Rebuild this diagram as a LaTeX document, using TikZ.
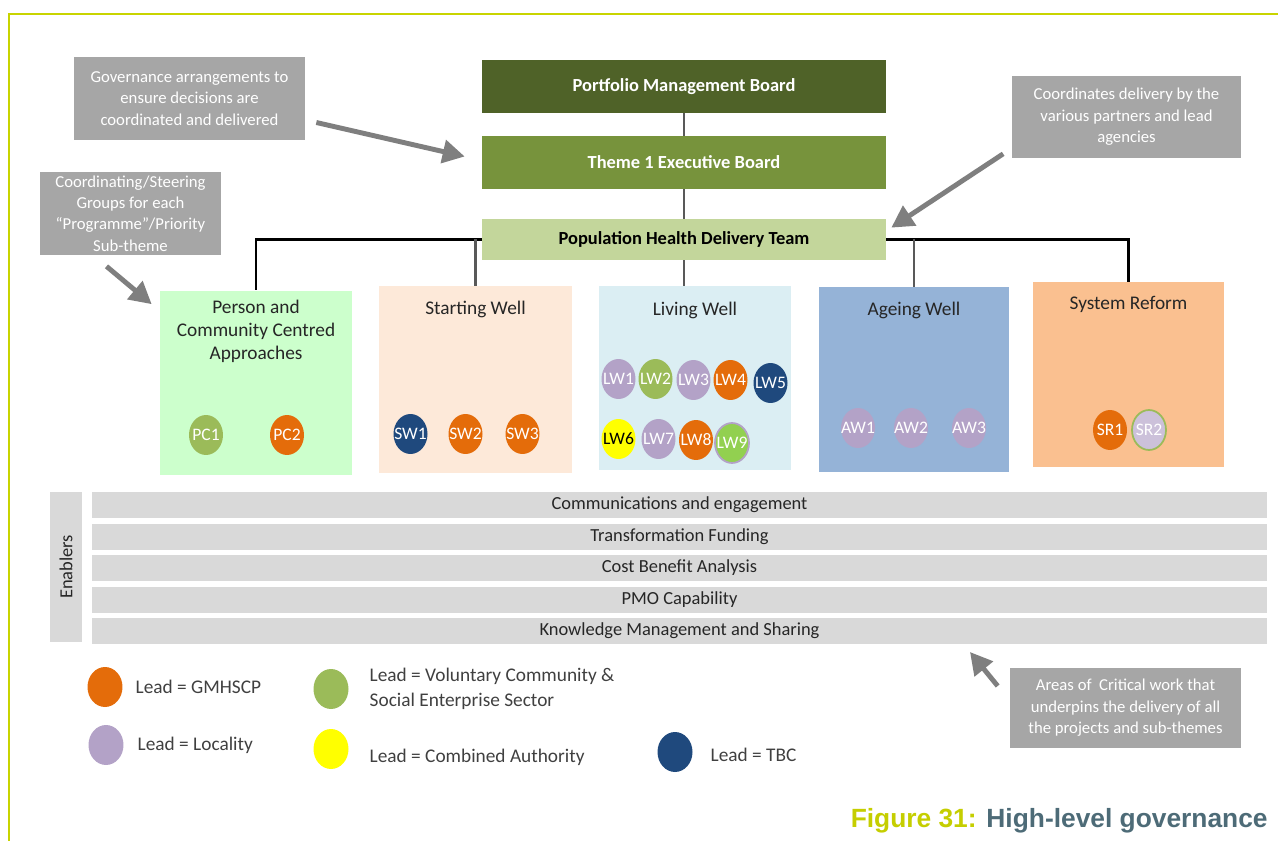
\documentclass[tikz,border=0pt]{standalone}
\usepackage{fontspec}
\setmainfont{Carlito}
\newfontfamily\capfont{Liberation Sans}
\usepackage{tikz}
\usetikzlibrary{positioning,shapes.geometric,arrows.meta}
\definecolor{framegreen}{HTML}{C8D400}
\definecolor{pmbgreen}{HTML}{4F6228}
\definecolor{t1green}{HTML}{77933C}
\definecolor{phdtgreen}{HTML}{C3D69B}
\definecolor{calloutgrey}{HTML}{A6A6A6}
\definecolor{arrowgrey}{HTML}{7F7F7F}
\definecolor{linkgrey}{HTML}{595959}
\definecolor{titlegrey}{HTML}{262626}
\definecolor{keygrey}{HTML}{404040}
\definecolor{enablergrey}{HTML}{D9D9D9}
\definecolor{personfill}{HTML}{CCFFCC}
\definecolor{swfill}{HTML}{FDE9D9}
\definecolor{lwfill}{HTML}{DBEEF3}
\definecolor{awfill}{HTML}{95B3D7}
\definecolor{srfill}{HTML}{FAC090}
\definecolor{leadgm}{HTML}{E46C0A}
\definecolor{leadvcse}{HTML}{9BBB59}
\definecolor{leadloc}{HTML}{B3A2C7}
\definecolor{leadtbc}{HTML}{1F497D}
\definecolor{leadca}{HTML}{FFFF00}
\definecolor{lwninegreen}{HTML}{92D050}
\definecolor{srtwolilac}{HTML}{CCC1DA}
\definecolor{capyellow}{HTML}{C5CE00}
\definecolor{capslate}{HTML}{4D6B77}

\begin{document}
\begin{tikzpicture}[x=0.02cm, y=-0.02cm,
		board/.style={rectangle, minimum width=8.08cm, inner sep=0pt, font=\fontsize{10.5}{12}\selectfont\bfseries},
		theme/.style={rectangle, minimum width=3.84cm, minimum height=3.7cm, inner sep=0pt},
		themetitle/.style={font=\fontsize{11}{13}\selectfont, text=titlegrey, align=center, inner sep=0pt},
		callout/.style={rectangle, fill=calloutgrey, text=white, minimum width=4.62cm, minimum height=1.66cm, align=center, inner sep=0pt, font=\fontsize{9.5}{12.2}\selectfont},
		callarrow/.style={draw=arrowgrey, line width=2.8pt, -{Triangle[length=0.44cm,width=0.46cm]}},
		link/.style={draw=linkgrey, line width=1.5pt},
		blacklink/.style={draw=black, line width=1.4pt},
		keydot/.style={ellipse, minimum width=0.7cm, minimum height=0.8cm, inner sep=0pt},
		leadlabel/.style={inner sep=0pt, text=white, font=\fontsize{10}{10}\selectfont},
		lead/.style={keydot, minimum width=0.68cm, label={[leadlabel]center:#1}},
		enbar/.style={rectangle, fill=enablergrey, minimum width=23.5cm, minimum height=0.52cm, inner sep=0pt, text=titlegrey, font=\fontsize{10.5}{12}\selectfont},
		keytext/.style={font=\fontsize{11}{14}\selectfont, text=keygrey, align=left, inner sep=2pt}]

		\useasboundingbox (0,0) rectangle (1278,841);
		\draw [framegreen, line width=1.7pt] (9,841) -- (9,14) -- (1278,14);

		% Boards
		\node [board, fill=pmbgreen, text=white, minimum height=1.06cm] (pmb) at (684,86.5) {Portfolio Management Board};
		\node [board, fill=t1green, text=white, minimum height=1.06cm] (t1eb) at (684,162.5) {Theme 1 Executive Board};
		\node [board, fill=phdtgreen, text=black, minimum height=0.82cm] (phdt) at (684,239.5) {Population Health Delivery Team};

		% Sub-themes
		\node [theme, fill=personfill] (pcca) at (256,383) {};
		\node [theme, fill=swfill, minimum width=3.86cm, minimum height=3.74cm] (sw) at (475.5,379.5) {};
		\node [theme, fill=lwfill, minimum height=3.68cm] (lw) at (695,378) {};
		\node [theme, fill=awfill, minimum width=3.8cm] (aw) at (914,379.5) {};
		\node [theme, fill=srfill, minimum width=3.82cm] (sr) at (1128.5,374.5) {};

		\node [themetitle] (pccatitle) at ([yshift=-0.82cm]pcca.north) {Person and\\Community Centred\\Approaches};
		\node [themetitle] (swtitle) at ([yshift=-0.48cm]sw.north) {Starting Well};
		\node [themetitle] (lwtitle) at ([yshift=-0.5cm]lw.north) {Living Well};
		\node [themetitle] (awtitle) at ([yshift=-0.48cm]aw.north) {Ageing Well};
		\node [themetitle] (srtitle) at ([yshift=-0.46cm]sr.north) {System Reform};

		\draw [link] (pmb) -- (t1eb);
		\draw [link] (t1eb) -- (phdt);
		\draw [link] (phdt.south) -- (phdt.south |- lw.north);
		\draw [blacklink] (phdt.west) -| (pcca.north);
		\draw [blacklink] (phdt.east) -| (sr.north);
		\draw [link] (sw.north) -- (sw.north |- phdt.west);
		\draw [link] (aw.north) -- (aw.north |- phdt.east);

		% Projects
		\foreach \nm/\cx/\cy/\col in {PC1/206/435/leadvcse, PC2/287/435/leadgm,
				SW1/410.5/434/leadtbc, SW2/465.5/434/leadgm, SW3/522.5/434/leadgm,
				LW1/618.5/379/leadloc, LW2/655.5/379/leadvcse, LW3/693.5/380/leadloc, LW4/730.5/380/leadgm, LW5/770.5/383/leadtbc,
				LW7/658.5/439/leadloc, LW8/696/440/leadgm,
				AW1/858/428/leadloc, AW2/911/428/leadloc, AW3/969/428/leadloc, SR1/1110/430/leadgm}
			\node [lead=\nm, fill=\col] (\nm) at (\cx,\cy) {};
		\node [lead={\textcolor{black}{LW6}}, fill=leadca] (LW6) at (618.5,439) {};
		\node [lead=LW9, fill=lwninegreen, draw=leadloc, line width=1pt] (LW9) at (732,443) {};
		\node [lead=SR2, fill=srtwolilac, draw=leadvcse, line width=1pt] (SR2) at (1149,430) {};

		% Enablers
		\node [enbar, rotate=90, minimum width=3cm, minimum height=0.64cm] (enab) at (66,567) {Enablers};
		\foreach \txt [count=\i] in {Communications and engagement, Transformation Funding, Cost Benefit Analysis, PMO Capability, Knowledge Management and Sharing}
			\node [enbar] (bar\i) at (679.5,{473.5+31.5*\i}) {\txt};

		% Callouts
		\node [callout] (gov) at (189.5,98.5) {Governance arrangements to\\ensure decisions are\\coordinated and delivered};
		\node [callout, minimum width=3.62cm] (steer) at (130.5,213.5) {Coordinating/Steering\\Groups for each\\“Programme”/Priority\\Sub-theme};
		\node [callout, minimum width=4.6cm] (coord) at (1126.5,117) {Coordinates delivery by the\\various partners and lead\\agencies};
		\node [callout, minimum height=1.6cm] (areas) at (1125.5,708) {Areas of~ Critical work that\\underpins the delivery of all\\the projects and sub-themes};

		\coordinate (areastip) at (970,652);
		\draw [callarrow] ([shift={(11,24)}]gov.east) -- ([shift={(-17,-6)}]t1eb.west);
		\draw [callarrow] ([shift={(-24,11)}]steer.south) -- ([shift={(-8,14)}]pcca.north west);
		\draw [callarrow] ([shift={(-8,-5)}]coord.south west) -- ([shift={(5,9)}]phdt.north east);
		\draw [callarrow] ([shift={(-12,-22)}]areas.west) -- (areastip);

		% Legend
		\node [keydot, fill=leadgm] (keygm) at (105,687) {};
		\node [keytext, right=0.18cm of keygm] (keygmtxt) {Lead = GMHSCP};
		\node [keydot, fill=leadvcse] (keyvcse) at (331,689) {};
		\node [keytext, right=0.34cm of keyvcse] (keyvcsetxt) {Lead = Voluntary Community \&\\Social Enterprise Sector};
		\node [keydot, fill=leadloc] (keyloc) at (106,745) {};
		\node [keytext, right=0.2cm of keyloc] (keyloctxt) {Lead = Locality};
		\node [keydot, fill=leadca] (keyca) at (331,749) {};
		\node [keytext, right=0.34cm of keyca, yshift=-0.16cm] (keycatxt) {Lead = Combined Authority};
		\node [keydot, fill=leadtbc] (keytbc) at (675,752) {};
		\node [keytext, right=0.28cm of keytbc, yshift=-0.06cm] (keytbctxt) {Lead = TBC};

		\node [anchor=base east, inner sep=0pt, font={\capfont\bfseries\fontsize{15}{18}\selectfont}] (figcap) at (1268,827) {\textcolor{capyellow}{Figure 31:} \textcolor{capslate}{High-level governance}};

	\end{tikzpicture}
\end{document}
